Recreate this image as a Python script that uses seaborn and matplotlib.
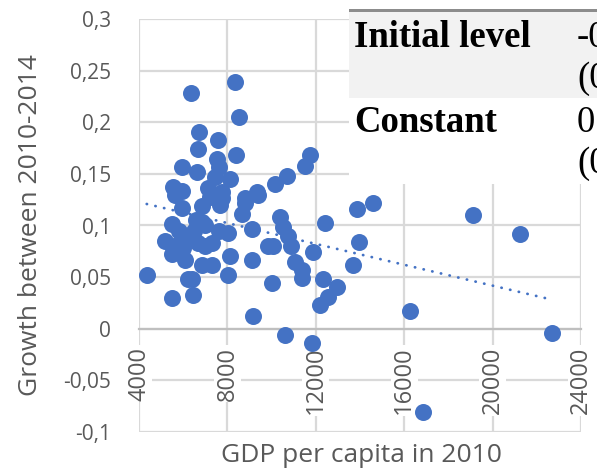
import matplotlib
matplotlib.use("Agg")
import matplotlib.pyplot as plt
import seaborn as sns
import pandas as pd
from matplotlib.patches import Rectangle

# GDP per capita in 2010 and growth over 2010-2014 for each country
gdp_2010 = [
    4350, 5500, 6460, 6380, 5480, 6080, 6840, 7290, 8120, 9100,
    8040, 10000, 9170, 10600, 11810, 16830, 22670, 16260, 12190, 12570,
    12940, 12340, 11360, 11360, 11060, 13700, 11890, 10900, 10080, 9850,
    13970, 10760, 12420, 10530, 10370, 13870, 14600, 10150, 10680, 11510,
    11740, 19130, 21240, 5180, 6080, 6690, 7290, 8040, 9100, 5480,
    6840, 8650, 5930, 6840, 7660, 8800, 5630, 7210, 7740, 9400,
    5550, 5930, 7140, 7740, 8800, 9320, 5930, 6610, 7620, 7440,
    8120, 6340, 8340, 8520, 6730, 7590, 6650, 8390, 7510, 6220,
    6500, 7000, 6000, 7600, 5800, 6300, 7000, 6600, 5600,
]
growth_2010_2014 = [
    0.052, 0.030, 0.033, 0.048, 0.072, 0.067, 0.062, 0.062, 0.070, 0.067,
    0.052, 0.044, 0.012, -0.006, -0.014, -0.081, -0.004, 0.017, 0.023, 0.031,
    0.040, 0.048, 0.049, 0.057, 0.065, 0.062, 0.074, 0.080, 0.080, 0.080,
    0.084, 0.090, 0.102, 0.099, 0.108, 0.116, 0.122, 0.140, 0.148, 0.158,
    0.168, 0.110, 0.092, 0.085, 0.090, 0.083, 0.083, 0.093, 0.097, 0.101,
    0.103, 0.111, 0.117, 0.119, 0.120, 0.122, 0.130, 0.128, 0.127, 0.130,
    0.137, 0.133, 0.136, 0.132, 0.127, 0.132, 0.157, 0.152, 0.157, 0.147,
    0.145, 0.228, 0.239, 0.205, 0.191, 0.183, 0.174, 0.168, 0.164, 0.048,
    0.095, 0.100, 0.078, 0.095, 0.095, 0.088, 0.080, 0.105, 0.080,
]

x_ticks = [4000, 8000, 12000, 16000, 20000, 24000]
x_tick_labels = ["4000", "8000", "12000", "16000", "20000", "24000"]
y_ticks = [-0.1, -0.05, 0, 0.05, 0.1, 0.15, 0.2, 0.25, 0.3]
y_tick_labels = ["-0,1", "-0,05", "0", "0,05", "0,1", "0,15", "0,2", "0,25", "0,3"]

table_rows = ["Initial level", "Constant"]
table_values = ["-0", "0"]
table_errors = ["(0", "(0"]

df = pd.DataFrame({"gdp": gdp_2010, "growth": growth_2010_2014})

sns.set_theme(style="white")
plt.rcParams["font.family"] = ["Open Sans", "DejaVu Sans"]

blue = "#4472C4"
grid = "#d9d9d9"
text_col = "#595959"

W, H = 597, 469
fig = plt.figure(figsize=(W / 100, H / 100), dpi=100)
ax = fig.add_axes([139 / W, 1 - 432 / H, (581 - 139) / W, (432 - 19) / H])

sns.regplot(data=df, x="gdp", y="growth", ax=ax, scatter=False, ci=None,
            line_kws=dict(color=blue, lw=2.0, linestyle=(0, (0.1, 3.1)),
                          dash_capstyle="round", zorder=2))
sns.scatterplot(data=df, x="gdp", y="growth", ax=ax, s=150, color=blue,
                edgecolor=blue, linewidth=0, zorder=3)

# horizontal axis crosses at zero; set it before styling the ticks
for side in ["top", "right", "left"]:
    ax.spines[side].set_visible(False)
ax.spines["bottom"].set_position(("data", 0))
ax.spines["bottom"].set_color("#bfbfbf")
ax.spines["bottom"].set_linewidth(1.6)

ax.set_xlim(4000, 24000)
ax.set_ylim(-0.1, 0.3)
ax.set_xticks(x_ticks)
ax.set_xticklabels(x_tick_labels, rotation=90, fontsize=17, color=text_col)
ax.set_yticks(y_ticks)
ax.set_yticklabels(y_tick_labels, fontsize=15, color=text_col)
ax.grid(True, color=grid, lw=1.6)
ax.set_axisbelow(True)
ax.tick_params(axis="x", length=0, pad=13)
ax.tick_params(axis="y", length=0, pad=20)
ax.set_xlabel("")
ax.set_ylabel("")

# x labels sit on a white patch that hides the gridlines behind them
ax.xaxis.set_zorder(1.5)
for lab in ax.xaxis.get_ticklabels():
    lab.set_bbox(dict(facecolor="white", edgecolor="none", pad=1.0))

fig.text(31 / W, 1 - 225 / H, "Growth between 2010-2014", rotation=90,
         ha="center", va="center", fontsize=19, color=text_col)
fig.text(361 / W, 1 - 455 / H, "GDP per capita in 2010",
         ha="center", va="center", fontsize=19, color=text_col)

# Regression table panel in the upper right corner
fig.add_artist(Rectangle((349 / W, 1 - 184 / H), (W - 349) / W, (184 - 98) / H,
                         transform=fig.transFigure, facecolor="white",
                         edgecolor="none", zorder=5))
fig.add_artist(Rectangle((349 / W, 1 - 98 / H), (W - 349) / W, (98 - 11) / H,
                         transform=fig.transFigure, facecolor="#f2f2f2",
                         edgecolor="none", zorder=5))
fig.add_artist(Rectangle((349 / W, 1 - 12.5 / H), (W - 349) / W, 3 / H,
                         transform=fig.transFigure, facecolor="#8c8c8c",
                         edgecolor="none", zorder=6))
serif = ["Liberation Serif", "DejaVu Serif"]
row_base = [47, 132]
for name, val, err, yb in zip(table_rows, table_values, table_errors, row_base):
    fig.text(354 / W, 1 - yb / H, name, fontsize=26.5, fontweight="bold",
             family=serif, color="black", ha="left", va="baseline", zorder=7)
    fig.text(577 / W, 1 - yb / H, val, fontsize=26.5, family=serif,
             color="black", ha="left", va="baseline", zorder=7)
    fig.text(577 / W, 1 - (yb + 41) / H, err, fontsize=26.5, family=serif,
             color="black", ha="left", va="baseline", zorder=7)

fig.savefig("out.png", dpi=100)
